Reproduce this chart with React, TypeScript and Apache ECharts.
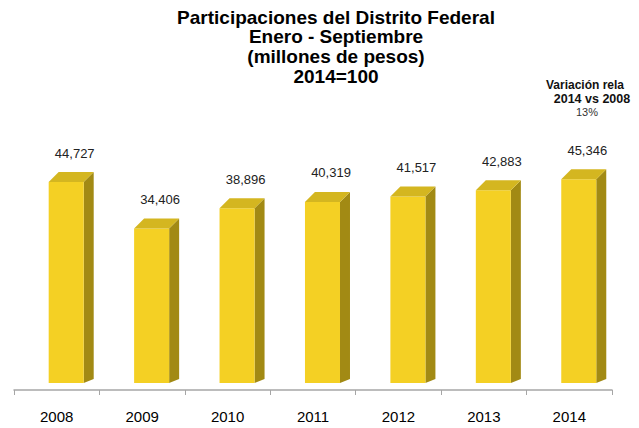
import React, { useEffect, useRef } from "react";
import * as echarts from "echarts";

const years = ["2008", "2009", "2010", "2011", "2012", "2013", "2014"];
const values = [44727, 34406, 38896, 40319, 41517, 42883, 45346];
const titleLines = [
  "Participaciones del Distrito Federal",
  "Enero - Septiembre",
  "(millones de pesos)",
  "2014=100",
];
const noteLines = ["Variación rela", "2014 vs 2008", "13%"];

const FRONT = "#F4D024";
const TOP = "#D4B620";
const SIDE = "#A28A14";
const FONT = '"Liberation Sans", Arial, sans-serif';

export default function App() {
  const ref = useRef<HTMLDivElement>(null);
  useEffect(() => {
    if (!ref.current) return;
    const chart = echarts.init(ref.current, undefined, { renderer: "svg" });
    const titleGraphics = titleLines.map((t, i) => ({
      type: "text",
      x: 336,
      y: 17 + i * 19.8,
      style: {
        text: t,
        textAlign: "center",
        textVerticalAlign: "middle",
        fontSize: 19,
        fontWeight: "bold",
        fontFamily: FONT,
        fill: "#000",
      },
    }));
    const option: any = {
      animation: false,
      backgroundColor: "#ffffff",
      grid: { left: 14, right: 27, top: 100, bottom: 38 },
      xAxis: {
        type: "category",
        data: years,
        axisLine: { onZero: false, lineStyle: { color: "#A6A6A6", width: 1.5 } },
        axisTick: { show: true, length: 5, lineStyle: { color: "#A6A6A6", width: 1 } },
        axisLabel: { fontSize: 15, color: "#000", margin: 19, fontFamily: FONT },
      },
      yAxis: {
        type: "value",
        min: -1560,
        max: 63000,
        show: false,
        splitLine: { show: false },
      },
      graphic: [
        ...titleGraphics,
        {
          type: "text",
          x: 546,
          y: 85,
          style: {
            text: noteLines[0],
            textAlign: "left",
            textVerticalAlign: "middle",
            fontSize: 12,
            fontWeight: "bold",
            fontFamily: FONT,
            fill: "#111",
          },
        },
        {
          type: "text",
          x: 592,
          y: 98.5,
          style: {
            text: noteLines[1],
            textAlign: "center",
            textVerticalAlign: "middle",
            fontSize: 12.5,
            fontWeight: "bold",
            fontFamily: FONT,
            fill: "#111",
          },
        },
        {
          type: "text",
          x: 587,
          y: 112,
          style: {
            text: noteLines[2],
            textAlign: "center",
            textVerticalAlign: "middle",
            fontSize: 11,
            fontFamily: FONT,
            fill: "#333",
          },
        },
      ],
      series: [
        {
          type: "custom",
          data: values.map((v, i) => [i, v]),
          renderItem: (params: any, api: any) => {
            const idx = api.value(0);
            const v = api.value(1);
            const top = api.coord([idx, v]);
            const base = api.coord([idx, 0]);
            const band = api.size([1, 0])[0];
            const x0 = top[0] - 0.094 * band;
            const w = 0.41 * band;
            const x1 = x0 + w;
            const dx = 0.117 * band;
            const dyT = -10;
            const dyB = -4;
            const yt = top[1];
            const yb = base[1];
            return {
              type: "group",
              children: [
                {
                  type: "polygon",
                  shape: { points: [[x1, yt], [x1 + dx, yt + dyT], [x1 + dx, yb + dyB], [x1, yb]] },
                  style: { fill: SIDE },
                },
                {
                  type: "rect",
                  shape: { x: x0, y: yt, width: w, height: yb - yt },
                  style: { fill: FRONT },
                },
                {
                  type: "polygon",
                  shape: { points: [[x0, yt], [x1, yt], [x1 + dx, yt + dyT], [x0 + dx, yt + dyT]] },
                  style: { fill: TOP },
                },
                {
                  type: "text",
                  x: top[0] + 18,
                  y: yt - 29,
                  style: {
                    text: Number(v).toLocaleString("en-US"),
                    textAlign: "center",
                    textVerticalAlign: "middle",
                    fontSize: 13,
                    fontFamily: FONT,
                    fill: "#222",
                  },
                },
              ],
            };
          },
        },
      ],
    };
    chart.setOption(option);
    return () => chart.dispose();
  }, []);
  return (
    <div
      ref={ref}
      style={{ position: "fixed", left: 0, top: 0, width: 639, height: 428, background: "#fff" }}
    />
  );
}
